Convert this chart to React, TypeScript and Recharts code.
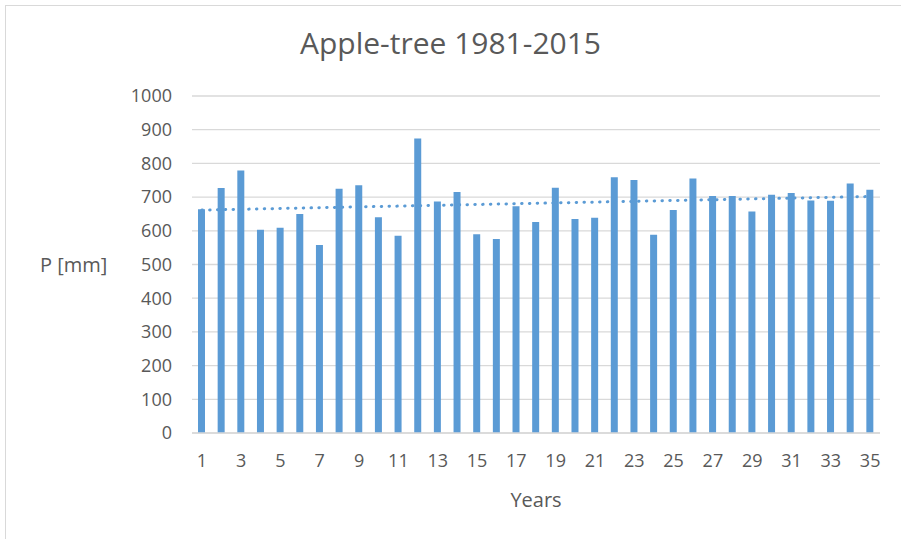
import React from "react";
import { ComposedChart, Bar, Line, XAxis, YAxis, CartesianGrid } from "recharts";

// Annual precipitation, years 1..35 (1981-2015)
const years = Array.from({ length: 35 }, (_, i) => i + 1);
const precip = [
  664, 727, 779, 603, 609, 650, 558, 725, 735, 640,
  585, 874, 687, 715, 590, 576, 673, 626, 728, 635,
  639, 759, 751, 588, 662, 755, 703, 703, 657, 707,
  712, 690, 689, 740, 722,
];
const yTicks = [0, 100, 200, 300, 400, 500, 600, 700, 800, 900, 1000];

// linear trend line (least squares, like Excel's trendline)
const n = years.length;
const mx = years.reduce((a, b) => a + b, 0) / n;
const my = precip.reduce((a, b) => a + b, 0) / n;
let sxy = 0, sxx = 0;
years.forEach((x, i) => { sxy += (x - mx) * (precip[i] - my); sxx += (x - mx) ** 2; });
const slope = sxy / sxx;
const icpt = my - slope * mx;

const data = years.map((y, i) => ({ year: y, p: precip[i], trend: icpt + slope * y }));

const FONT = "'Open Sans', 'Noto Sans', sans-serif";
const GREY = "#595959";

export default function App() {
  return (
    <div style={{ position: "absolute", left: 0, top: 0, width: 901, height: 539, background: "#fff", fontFamily: FONT, overflow: "hidden" }}>
      <div style={{ position: "absolute", left: 5, top: 5, width: 910, height: 560, border: "1px solid #d9d9d9" }} />
      <div style={{ position: "absolute", top: 22, width: 901, textAlign: "center", fontSize: 30, color: GREY }}>
        Apple-tree 1981-2015
      </div>
      <ComposedChart
        width={901}
        height={539}
        data={data}
        margin={{ top: 96, right: 21, bottom: 0, left: 0 }}
        style={{ position: "absolute", left: 0, top: 0 }}
      >
        <CartesianGrid vertical={false} stroke="#d9d9d9" strokeWidth={1.3} />
        <XAxis
          dataKey="year"
          height={106}
          interval={1}
          tickLine={false}
          tickSize={0}
          tickMargin={21}
          axisLine={{ stroke: "#d9d9d9", strokeWidth: 1.5 }}
          tick={{ fill: GREY, fontSize: 18, fontFamily: FONT }}
          label={{ value: "Years", position: "insideBottom", offset: 32, fill: GREY, fontSize: 20, fontFamily: FONT }}
        />
        <YAxis
          width={192}
          domain={[0, 1000]}
          ticks={yTicks}
          tickLine={false}
          axisLine={false}
          tickSize={0}
          tickMargin={20}
          tick={{ fill: GREY, fontSize: 18, fontFamily: FONT }}
          label={{ value: "P [mm]", position: "insideLeft", offset: 40, fill: GREY, fontSize: 20, fontFamily: FONT }}
        />
        <Bar dataKey="p" fill="#5b9bd5" barSize={7} isAnimationActive={false} />
        <Line
          dataKey="trend"
          type="linear"
          stroke="#5b9bd5"
          strokeWidth={3}
          strokeDasharray="0.5 7.3"
          strokeLinecap="round"
          dot={false}
          activeDot={false}
          isAnimationActive={false}
        />
      </ComposedChart>
    </div>
  );
}
